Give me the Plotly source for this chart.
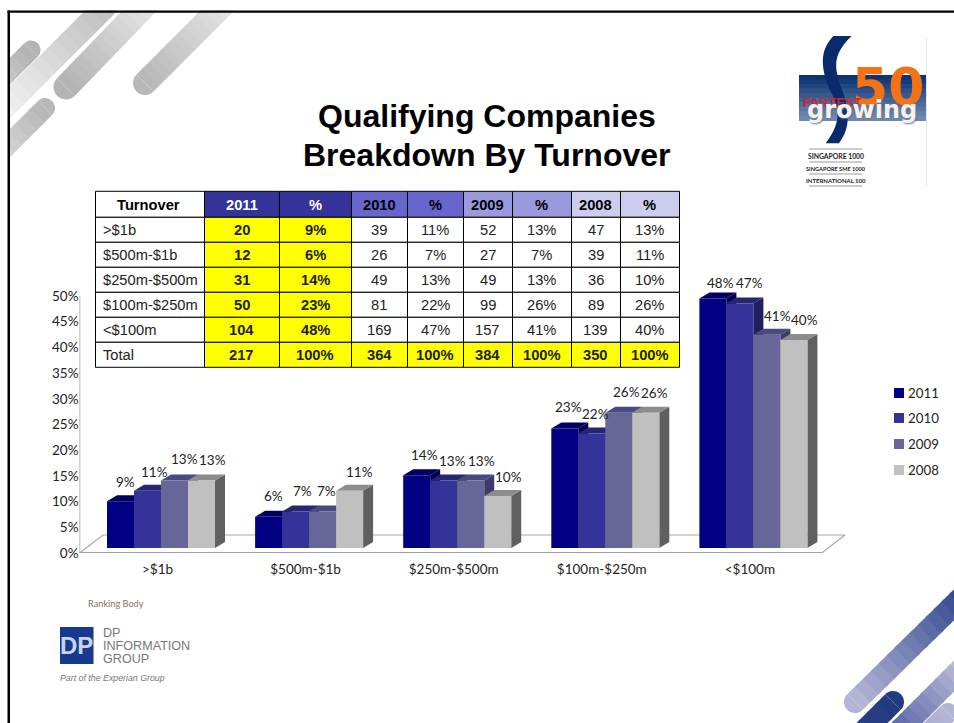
import numpy as np
import plotly.graph_objects as go

# ---------- data ----------
categories = [">$1b", "$500m-$1b", "$250m-$500m", "$100m-$250m", "<$100m"]
years = ["2011", "2010", "2009", "2008"]
pct_2011 = [9, 6, 14, 23, 48]
pct_2010 = [11, 7, 13, 22, 47]
pct_2009 = [13, 7, 13, 26, 41]
pct_2008 = [13, 11, 10, 26, 40]
count_2011 = [20, 12, 31, 50, 104]
count_2010 = [39, 26, 49, 81, 169]
count_2009 = [52, 27, 49, 99, 157]
count_2008 = [47, 39, 36, 89, 139]
total_2011 = 217
total_2010 = 364
total_2009 = 384
total_2008 = 350
y_ticks = [0, 5, 10, 15, 20, 25, 30, 35, 40, 45, 50]
title_lines = ["Qualifying Companies", "Breakdown By Turnover"]

# ---------- styles ----------
W, H = 954, 723
front = ["#000080", "#333399", "#666699", "#C0C0C0"]
top_c = ["#000060", "#262672", "#4A4A80", "#8C8C8C"]
side_c = ["#00004E", "#1F1F5E", "#3C3C6C", "#5F5F5F"]
LABEL_FONT = "Lato"
TABLE_FONT = "Liberation Sans"

# pixel geometry of the chart
PLOT_L, PLOT_R, PLOT_T, PLOT_B = 79.5, 860.0, 200.0, 553.0
BASE_PX, PX_PER_PCT = 548.0, 5.2
TICK_PX_PER_PCT = 5.14
CAT_PX, CAT0_PX = 148.1, 161.0
BAR_PX = 27.0
DEPTH_X, DEPTH_Y = 10.0, 6.0
FLOOR_BACK, FLOOR_L, FLOOR_R, FRONT_R = 535.0, 103.0, 845.0, 821.7

label_dx = [[4.5, 6.5, 9.5, 10.5], [4.5, 6.5, 3.5, 9.5], [7.5, 8.5, 10.5, 10.5],
            [3.5, 3.5, 7.5, 8.5], [7.5, 9.5, 10.5, 10.5]]
label_dy = [[19, 19, 21, 20], [21, 21, 21, 19], [20, 19, 19, 19],
            [21, 20, 21, 20], [15, 21, 19, 20]]


def px(x):
    return x / W


def py(y):
    return 1 - y / H


def hex2rgb(c):
    c = c.lstrip("#")
    return np.array([int(c[i:i + 2], 16) for i in (0, 2, 4)], float)


def mix(a, b, t):
    v = hex2rgb(a) * (1 - t) + hex2rgb(b) * t
    return "rgb(%d,%d,%d)" % tuple(v.round())


def poly(pts, color):
    d = "M" + " L".join(f"{px(x):.5f},{py(y):.5f}" for x, y in pts) + " Z"
    return dict(type="path", path=d, xref="paper", yref="paper", fillcolor=color,
                line=dict(width=0), layer="below")


def rect(x0, y0, x1, y1, color, line=None, layer="below"):
    return dict(type="rect", xref="paper", yref="paper", x0=px(x0), x1=px(x1), y0=py(y1), y1=py(y0),
                fillcolor=color, line=line or dict(width=0), layer=layer)


def pill(x0, y0, x1, y1, w, c0, c1, n=14):
    p0, p1 = np.array([x0, y0], float), np.array([x1, y1], float)
    u = (p1 - p0) / np.linalg.norm(p1 - p0)
    nrm = np.array([-u[1], u[0]])
    out = []
    a0 = np.arctan2(nrm[1], nrm[0])
    cap = [p0 + w / 2 * np.array([np.cos(a0 + s), np.sin(a0 + s)]) for s in np.linspace(0, np.pi, 24)]
    if np.dot(cap[12] - p0, u) > 0:
        cap = [p0 + w / 2 * np.array([np.cos(a0 - s), np.sin(a0 - s)]) for s in np.linspace(0, np.pi, 24)]
    out.append(poly(cap, mix(c0, c0, 0)))
    for i in range(n):
        a = p0 + (p1 - p0) * i / n
        b = p0 + (p1 - p0) * min(1, (i + 1.3) / n)
        out.append(poly([a + nrm * w / 2, b + nrm * w / 2, b - nrm * w / 2, a - nrm * w / 2],
                        mix(c0, c1, i / (n - 1))))
    return out


shapes = []
# grey stripes, top left
shapes += pill(31, 50, 0, 81, 19, "#B4B4B4", "#C8C8C8", 5)
shapes += pill(112, 0, 0, 112, 23, "#BEBEBE", "#F0F0F0")
shapes += pill(66, 87, 150, 0, 25, "#B4B4B4", "#E4E4E4")
shapes += pill(45, 108, 0, 153, 20, "#B8B8B8", "#D4D4D4", 6)
shapes += pill(145, 83, 228, 0, 24, "#B8B8B8", "#E4E4E4")
# blue stripes, bottom right
shapes += pill(855, 702, 965, 594, 22, "#B4B4D4", "#334A92")
shapes += pill(893, 702, 860, 735, 22, "#223A80", "#2A3F84", 4)
shapes += pill(965, 665, 895, 735, 22, "#BABAD8", "#5C68A8", 10)
shapes += pill(948, 713, 930, 731, 20, "#B4B4D4", "#B0B0D0", 3)
# masks and page frame
shapes.append(rect(0, 0, 8, H, "white"))
shapes.append(rect(0, 0, W, 10, "white"))
shapes.append(rect(7.5, 10.5, 10, H, "black"))
shapes.append(rect(7.5, 10.5, W, 12.8, "black"))

# fastest growing logo
shapes.append(dict(type="line", xref="paper", yref="paper", x0=px(926.5), x1=px(926.5), y0=py(37), y1=py(187),
                   line=dict(color="#E8E8E8", width=1), layer="below"))
for i in range(10):
    shapes.append(rect(799, 75 + 4.5 * i, 926, 75 + 4.5 * (i + 1.2), mix("#0C3470", "#6E88B4", i / 9)))


def lz(x, y):
    return f"{px(780 + x / 3):.5f},{py(20 + y / 3):.5f}"


s_path = ("M" + lz(160, 48) + " C" + lz(120, 90) + " " + lz(120, 140) + " " + lz(150, 210) +
          " C" + lz(175, 260) + " " + lz(190, 300) + " " + lz(137, 370) + " L" + lz(177, 370) +
          " C" + lz(215, 320) + " " + lz(205, 270) + " " + lz(190, 220) +
          " C" + lz(165, 150) + " " + lz(150, 110) + " " + lz(215, 48) + " Z")
shapes.append(dict(type="path", path=s_path, xref="paper", yref="paper", fillcolor="#0A2A6C",
                   line=dict(width=0), layer="below"))
for yy in (149, 162, 174, 186):
    shapes.append(dict(type="line", xref="paper", yref="paper", x0=px(809), x1=px(862), y0=py(yy), y1=py(yy),
                       line=dict(color="#999999", width=1), layer="below"))
# DP logo square
shapes.append(rect(60, 627, 93.5, 664, "#173A8E"))

# ---------- axes mapping ----------
x_left = (PLOT_L - CAT0_PX) / CAT_PX
x_right = (PLOT_R - CAT0_PX) / CAT_PX
y_span_px = PLOT_B - PLOT_T
y_low = (BASE_PX - PLOT_B) / PX_PER_PCT
y_high = (BASE_PX - PLOT_T) / PX_PER_PCT
dxu = DEPTH_X / CAT_PX
dyu = DEPTH_Y / PX_PER_PCT
bar_u = BAR_PX / CAT_PX


def xu(p):
    return (p - CAT0_PX) / CAT_PX


def yu(p):
    return (BASE_PX - p) / PX_PER_PCT


series = [pct_2011, pct_2010, pct_2009, pct_2008]
fig = go.Figure()

# floor of the 3-D plot
fig.add_trace(go.Scatter(
    x=[xu(PLOT_L), xu(FLOOR_L), xu(FLOOR_R), xu(FRONT_R), xu(PLOT_L)],
    y=[yu(PLOT_B), yu(FLOOR_BACK), yu(FLOOR_BACK), yu(PLOT_B), yu(PLOT_B)],
    mode="lines", line=dict(color="#A8A8A8", width=1.2), fill="toself", fillcolor="white",
    hoverinfo="skip", showlegend=False, xaxis="x", yaxis="y"))
fig.add_trace(go.Scatter(
    x=[xu(PLOT_L), xu(FRONT_R)], y=[yu(PLOT_B), yu(PLOT_B)], mode="lines",
    line=dict(color="#A0A0A0", width=2), hoverinfo="skip", showlegend=False, xaxis="x", yaxis="y"))

# side and top faces, left to right inside every cluster
for ci in range(len(categories)):
    for s, vals in enumerate(series):
        v = vals[ci]
        xl = ci + (s - 2) * bar_u
        xr = xl + bar_u
        fig.add_trace(go.Scatter(
            x=[xr, xr + dxu, xr + dxu, xr, xr], y=[0, dyu, v + dyu, v, 0],
            mode="lines", line=dict(width=0), fill="toself", fillcolor=side_c[s],
            hoverinfo="skip", showlegend=False, xaxis="x", yaxis="y"))
        fig.add_trace(go.Scatter(
            x=[xl, xl + dxu, xr + dxu, xr, xl], y=[v, v + dyu, v + dyu, v, v],
            mode="lines", line=dict(width=0), fill="toself", fillcolor=top_c[s],
            hoverinfo="skip", showlegend=False, xaxis="x", yaxis="y"))

# front faces
for s, vals in enumerate(series):
    fig.add_trace(go.Bar(
        x=categories, y=vals, name=years[s], marker=dict(color=front[s], line=dict(width=0)),
        showlegend=False, xaxis="x2", yaxis="y2", hovertemplate="%{x}: %{y}%<extra>" + years[s] + "</extra>"))

# value axis line (carries the % tick labels)
fig.add_trace(go.Scatter(
    x=[xu(PLOT_L), xu(PLOT_L)], y=[y_ticks[0], y_ticks[-1]], mode="lines",
    line=dict(color="#A0A0A0", width=1.5), hoverinfo="skip", showlegend=False, xaxis="x", yaxis="y3"))

annotations = []
# value labels
for ci in range(len(categories)):
    for s, vals in enumerate(series):
        annotations.append(dict(
            x=ci + (s - 1.5) * bar_u, y=vals[ci], xref="x", yref="y", text=f"{vals[ci]}%",
            showarrow=False, xanchor="center", yanchor="middle",
            xshift=label_dx[ci][s], yshift=label_dy[ci][s],
            font=dict(family=LABEL_FONT, size=13.5, color="#222222")))


def note(x, y, text, size, color="#000000", family=TABLE_FONT, xanchor="left", **fontkw):
    xpos = x - 2 if xanchor == "left" else x
    annotations.append(dict(x=px(xpos), y=py(y), xref="paper", yref="paper", text=text, showarrow=False,
                            xanchor=xanchor, yanchor="middle",
                            font=dict(family=family, size=size, color=color, **fontkw)))


# title
note(487, 116, f"<b>{title_lines[0]}</b>", 32, "#000000", TABLE_FONT, "center")
note(487, 155, f"<b>{title_lines[1]}</b>", 32, "#000000", TABLE_FONT, "center")

# legend
legend_rows = [393, 418, 444, 470]
for s, yr in enumerate(years):
    shapes.append(rect(894, legend_rows[s] - 5, 904, legend_rows[s] + 5, front[s]))
    note(908, legend_rows[s], yr, 13.3, "#222222", LABEL_FONT)

# logo texts
note(888, 87, "<b>50</b>", 52, "#F47216", "DejaVu Sans", "center")
note(832, 102.5, "<b>FASTEST</b>", 13, "#D8232A", TABLE_FONT, "center")
note(861.5, 110, "<b>growing</b>", 24, "#F2F2F2", "DejaVu Sans", "center", shadow="1px 1px 2px #777777")
note(836, 156, "<b>SINGAPORE 1000</b>", 6.8, "#222222", LABEL_FONT, "center")
note(836, 168, "<b>SINGAPORE SME 1000</b>", 5.6, "#222222", LABEL_FONT, "center")
note(836, 180, "<b>INTERNATIONAL 100</b>", 6, "#222222", LABEL_FONT, "center")
# ranking body block
note(88, 603.5, "Ranking Body", 9.2, "#857565", LABEL_FONT)
note(76.7, 645.5, "<b>DP</b>", 24, "#C8D4EC", TABLE_FONT, "center")
note(103, 633, "DP", 12.6, "#777777", TABLE_FONT)
note(103, 646, "INFORMATION", 12.6, "#777777", TABLE_FONT)
note(103, 659, "GROUP", 12.6, "#777777", TABLE_FONT)
note(60, 678, "<i>Part of the Experian Group</i>", 8.8, "#777777", TABLE_FONT)


# ---------- table (cells built from the data lists) ----------
def bold(seq):
    return [f"<b>{v}</b>" for v in seq]


def pcts(vals):
    return [f"{v}%" for v in vals]


rows_first = categories + ["Total"]
col_vals = [
    rows_first,
    bold(count_2011 + [total_2011]), bold(pcts(pct_2011) + ["100%"]),
    [str(v) for v in count_2010] + [f"<b>{total_2010}</b>"], pcts(pct_2010) + ["<b>100%</b>"],
    [str(v) for v in count_2009] + [f"<b>{total_2009}</b>"], pcts(pct_2009) + ["<b>100%</b>"],
    [str(v) for v in count_2008] + [f"<b>{total_2008}</b>"], pcts(pct_2008) + ["<b>100%</b>"],
]
header_vals = ["Turnover", "2011", "%", "2010", "%", "2009", "%", "2008", "%"]
header_fill = ["#FFFFFF", "#333399", "#333399", "#6666CC", "#6666CC", "#9999DD", "#9999DD", "#CCCCEE", "#CCCCEE"]
header_col = ["#000000", "#FFFFFF", "#FFFFFF"] + ["#000000"] * 6
Y, WH = "#FFFF00", "#FFFFFF"
cell_fill = [[WH] * 6, [Y] * 6, [Y] * 6] + [[WH] * 5 + [Y]] * 6
col_w = [109, 75, 72, 56, 56, 49, 59, 49, 59]
T_L, T_T, HEAD_H, ROW_H = 95.5, 191.3, 26.0, 25.0
TFS = 14.7
edges = T_L + np.concatenate([[0], np.cumsum(col_w)])
border = dict(color="black", width=1)
for c in range(len(col_w)):
    x0, x1 = edges[c], edges[c + 1]
    shapes.append(rect(x0, T_T, x1, T_T + HEAD_H, header_fill[c], border))
    head_x = (x0 + x1) / 2 - (2 if c == 0 else 0.5)
    note(head_x, T_T + HEAD_H / 2 + 0.7, f"<b>{header_vals[c]}</b>", TFS, header_col[c], TABLE_FONT, "center")
    for r in range(6):
        y0 = T_T + HEAD_H + r * ROW_H
        shapes.append(rect(x0, y0, x1, y0 + ROW_H, cell_fill[c][r], border))
        if c == 0:
            note(x0 + 7.5, y0 + ROW_H / 2 + 0.3, col_vals[c][r], TFS, "#222222", TABLE_FONT, "left")
        else:
            note((x0 + x1) / 2 - 0.5, y0 + ROW_H / 2 + 0.3, col_vals[c][r], TFS, "#222222", TABLE_FONT, "center")

axis_font = dict(family=LABEL_FONT, size=13.5, color="#222222")
fig.update_layout(
    template=None,
    width=W, height=H, margin=dict(l=0, r=0, t=0, b=0, pad=0), autosize=False,
    paper_bgcolor="white", plot_bgcolor="rgba(0,0,0,0)", showlegend=False,
    barmode="group", bargap=1 - 4 * BAR_PX / CAT_PX, bargroupgap=0,
    shapes=shapes, annotations=annotations,
    xaxis=dict(domain=[px(PLOT_L), px(PLOT_R)], range=[x_left, x_right], type="linear", automargin=False,
               tickmode="array", tickvals=[i - 3.5 / CAT_PX for i in range(len(categories))], ticktext=categories,
               showgrid=False, zeroline=False, showline=False, ticks="", ticklabelstandoff=6,
               tickfont=axis_font, anchor="y", fixedrange=True),
    yaxis=dict(domain=[py(PLOT_B), py(PLOT_T)], range=[y_low, y_high], visible=False, fixedrange=True, anchor="x",
               automargin=False),
    xaxis2=dict(domain=[px(PLOT_L), px(PLOT_R)], range=[x_left, x_right], type="category", automargin=False,
                categoryorder="array", categoryarray=categories, overlaying="x", visible=False, anchor="y2",
                fixedrange=True),
    yaxis2=dict(domain=[py(PLOT_B), py(PLOT_T)], range=[y_low, y_high], overlaying="y", visible=False, anchor="x2",
                fixedrange=True, automargin=False),
    yaxis3=dict(domain=[py(PLOT_B), py(PLOT_T)], range=[0, y_span_px / TICK_PX_PER_PCT], overlaying="y",
                anchor="x", side="left", tickmode="array", tickvals=y_ticks, ticktext=[f"{t}%" for t in y_ticks],
                showgrid=False, zeroline=False, showline=False, ticks="", automargin=False,
                tickfont=axis_font, fixedrange=True),
    hovermode="closest",
)

fig.write_html("out.html", config=dict(displayModeBar=False),
               post_script="document.body.style.margin='0';")
